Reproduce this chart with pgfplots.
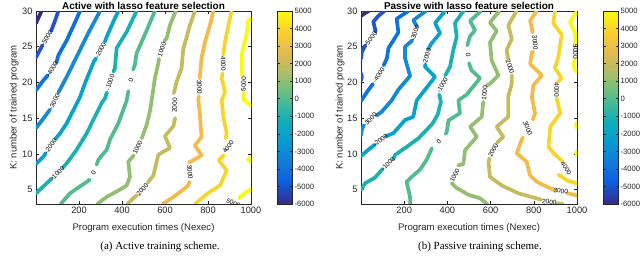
\documentclass[border=0pt]{standalone}
\usepackage{pgfplots}
\pgfplotsset{compat=1.18}
\usepackage{fontspec}
\setmainfont{Liberation Sans}
\newfontfamily\capfont{Liberation Serif}
\definecolor{m6}{rgb}{0.2081,0.1663,0.5292}
\definecolor{m5}{rgb}{0.137,0.316,0.816}
\definecolor{m4}{rgb}{0.040,0.450,0.868}
\definecolor{m3}{rgb}{0.073,0.541,0.826}
\definecolor{m2}{rgb}{0.023,0.640,0.793}
\definecolor{m1}{rgb}{0.103,0.698,0.694}
\definecolor{z0}{rgb}{0.320,0.739,0.562}
\definecolor{p1}{rgb}{0.574,0.748,0.448}
\definecolor{p2}{rgb}{0.780,0.736,0.366}
\definecolor{p3}{rgb}{0.961,0.729,0.277}
\definecolor{p4}{rgb}{0.976,0.833,0.159}
\definecolor{p5}{rgb}{0.976,0.983,0.054}
\definecolor{axc}{rgb}{0.15,0.15,0.15}
\tikzset{lab/.style={font=\fontsize{6.5}{7}\selectfont, inner sep=0pt, text=black}}
\pgfplotsset{
  colormap={parula}{rgb=(0.2081,0.1663,0.5292) rgb=(0.0591,0.3598,0.8683) rgb=(0.0723,0.4887,0.8467) rgb=(0.0265,0.6137,0.8135) rgb=(0.0843,0.6928,0.7062) rgb=(0.3482,0.7424,0.5473) rgb=(0.6473,0.7456,0.4188) rgb=(0.8824,0.7274,0.3217) rgb=(0.9880,0.8066,0.1794) rgb=(0.9763,0.9831,0.0538)},
  lv/.style={line width=3.7bp, line cap=round, line join=round, no markers, draw=#1},
  base/.style={
    scale only axis, height=193bp,
    anchor=south west,
    xmin=0, xmax=1000, ymin=3, ymax=30,
    xtick={200,400,600,800,1000}, ytick={5,10,15,20,25,30},
    /pgf/number format/assume math mode=true,
    /pgf/number format/1000 sep={},
    tick label style={font=\fontsize{9.3}{10}\selectfont, text=axc},
    axis line style={draw=axc, line width=0.5bp},
    tick style={draw=axc, line width=0.5bp},
    major tick length=3bp,
    title style={font=\bfseries\fontsize{10}{11}\selectfont, at={(0.5,1)}, anchor=south, inner sep=1bp, yshift=-5.5bp},
    xlabel={Program execution times (Nexec)},
    ylabel={K: number of trained program},
    label style={font=\fontsize{9.6}{11}\selectfont, text=axc},
    xlabel style={at={(axis description cs:0.5,-0.124)}, anchor=center},
    point meta min=-6000, point meta max=5000,
    colorbar,
    colorbar style={
      at={(parent axis.north east)}, anchor=north west, xshift=18bp,
      width=15bp,
      ytick={-6000,-5000,-4000,-3000,-2000,-1000,0,1000,2000,3000,4000,5000},
      /pgf/number format/assume math mode=true,
      /pgf/number format/1000 sep={},
      yticklabel style={font=\fontsize{7.7}{9}\selectfont, text=axc, xshift=-1.5bp},
      axis line style={draw=axc, line width=0.5bp},
      tick style={draw=axc, line width=0.5bp},
      major tick length=2.5bp,
    },
  },
}
\begin{document}
\begin{tikzpicture}
\useasboundingbox (0,0) rectangle (640bp,265bp);
% ---------------- Active ----------------
\begin{axis}[base, at={(36bp,61bp)}, width=215bp,
  title={Active with lasso feature selection},
  ylabel style={at={(axis description cs:-0.102,0.5)}, anchor=center}]
\addplot[lv=m6] coordinates {(0,28.3) (12,29.1) (26,30)};
\addplot[lv=m5] coordinates {(0,23.5) (12,24.2) (30,25.2)};
\addplot[lv=m5] coordinates {(70,27.2) (88,28.6) (104,30)};
\addplot[lv=m4] coordinates {(0,18.9) (34,20.3) (55,21.0)};
\addplot[lv=m4] coordinates {(95,22.8) (104,23.8) (143,25.9) (175,28.0) (205,30)};
\addplot[lv=m3] coordinates {(0,13.6) (30,14.8) (65,16.2)};
\addplot[lv=m3] coordinates {(104,18.6) (143,20.8) (189,23.6) (243,26.9) (298,30)};
\addplot[lv=m2] coordinates {(0,8.6) (34,9.6) (45,10.1)};
\addplot[lv=m2] coordinates {(90,12.1) (112,12.9) (143,14.3) (175,16.2) (205,18.0) (228,19.9) (270,23.0) (280,23.4)};
\addplot[lv=m2] coordinates {(320,25.7) (329,26.4) (355,28.2) (383,30)};
\addplot[lv=m1] coordinates {(0,4.5) (11,4.8) (57,6.1) (75,6.6)};
\addplot[lv=m1] coordinates {(125,8.1) (143,8.7) (189,10.6) (236,12.9) (282,15.7) (305,17.1) (321,17.8) (330,18.6)};
\addplot[lv=m1] coordinates {(360,21.5) (367,22.0) (375,24.8) (422,27.1) (468,30)};
\addplot[lv=z0] coordinates {(115,3) (158,4.5) (236,6.1) (250,6.4)};
\addplot[lv=z0] coordinates {(282,8.5) (290,9.2) (329,10.6) (344,12.0) (383,14.3) (422,17.5) (430,18.8)};
\addplot[lv=z0] coordinates {(452,21.8) (460,22.5) (468,24.1) (515,27.3) (553,30)};
\addplot[lv=p1] coordinates {(285,3) (329,4.0) (390,5.0) (422,5.6) (437,6.8) (429,8.9) (455,9.8)};
\addplot[lv=p1] coordinates {(492,12.2) (515,14.1) (530,16.0) (538,17.5) (553,20.6) (569,22.7) (572,23.3)};
\addplot[lv=p1] coordinates {(597,25.8) (608,26.2) (623,28.0) (650,30)};
\addplot[lv=p2] coordinates {(425,3) (455,3.9) (470,4.2)};
\addplot[lv=p2] coordinates {(520,6.0) (546,7.0) (569,9.9) (623,10.85) (600,12.5) (639,13.9) (647,15.0)};
\addplot[lv=p2] coordinates {(641,18.5) (654,20.1) (677,22.0) (685,24.7) (716,28.0) (739,30)};
\addplot[lv=p3] coordinates {(590,3) (654,4.3) (705,5.5) (714,6.1)};
\addplot[lv=p3] coordinates {(712,8.8) (770,9.8) (739,11.2) (770,12.4) (763,15.2) (755,17.6) (757,18.1)};
\addplot[lv=p3] coordinates {(762,20.6) (763,21.1) (770,23.4) (786,25.7) (809,28.0) (825,30)};
\addplot[lv=p4] coordinates {(740,3) (794,4.4) (856,5.6) (887,7.7) (850,9.1) (872,9.8)};
\addplot[lv=p4] coordinates {(882,12.2) (887,12.9) (871,15.2) (864,17.5) (879,18.7) (864,20.6) (868,21.3)};
\addplot[lv=p4] coordinates {(871,23.9) (879,25.7) (895,28.0) (910,30)};
\addplot[lv=p5] coordinates {(1000,29.0) (985,28.5) (980,26.8) (957,24.0) (957,21.2) (961,20.9)};
\addplot[lv=p5] coordinates {(966,18.6) (964,17.7) (980,17.2) (1000,16.8)};
\addplot[lv=p5] coordinates {(1000,9.5) (986,9.2) (1000,8.9)};
\addplot[lv=p5] coordinates {(1000,5.1) (975,4.6) (945,3.9)};
\node[lab, rotate=59] at (axis cs:50,26.2) {-5000};
\node[lab, rotate=58] at (axis cs:75,21.8) {-4000};
\node[lab, rotate=62] at (axis cs:85,17.3) {-3000};
\node[lab, rotate=54] at (axis cs:68,11.1) {-2000};
\node[lab, rotate=62] at (axis cs:300,24.5) {-2000};
\node[lab, rotate=45] at (axis cs:100,7.3) {-1000};
\node[lab, rotate=72] at (axis cs:344,20.0) {-1000};
\node[lab, rotate=61] at (axis cs:268,7.3) {0};
\node[lab, rotate=75] at (axis cs:441,20.3) {0};
\node[lab, rotate=65] at (axis cs:473,10.9) {1000};
\node[lab, rotate=71] at (axis cs:585,24.6) {1000};
\node[lab, rotate=48] at (axis cs:495,5.0) {2000};
\node[lab, rotate=88] at (axis cs:645,16.8) {2000};
\node[lab, rotate=-85] at (axis cs:716,7.45) {3000};
\node[lab, rotate=-88] at (axis cs:760,19.35) {3000};
\node[lab, rotate=55] at (axis cs:894,11.0) {4000};
\node[lab, rotate=-88] at (axis cs:871,22.6) {4000};
\node[lab, rotate=88] at (axis cs:966,19.75) {5000};
\node[lab, rotate=-25] at (axis cs:918,3.1) {5000};
\end{axis}
% ---------------- Passive ----------------
\begin{axis}[base, at={(361bp,61bp)}, width=216bp,
  title={Passive with lasso feature selection},
  ylabel style={at={(axis description cs:-0.097,0.5)}, anchor=center}]
\addplot[lv=m6] coordinates {(0,29.3) (18,29.7) (36,30)};
\addplot[lv=m5] coordinates {(0,23.3) (4,24.3) (20,25.2)};
\addplot[lv=m5] coordinates {(68,27.1) (57,28.5) (80,29.3) (108,30)};
\addplot[lv=m5] coordinates {(0,21.3) (4,20.8) (0,20.3)};
\addplot[lv=m4] coordinates {(0,17.4) (26,18.6) (55,19.8)};
\addplot[lv=m4] coordinates {(105,22.4) (120,23.4) (127,24.8) (173,27.0) (165,28.9) (219,30)};
\addplot[lv=m3] coordinates {(0,12.6) (4,13.4) (12,14.0)};
\addplot[lv=m3] coordinates {(72,15.4) (96,15.9) (142,17.5) (173,19.0) (227,20.9) (204,23.4) (204,25.0) (238,25.9)};
\addplot[lv=m3] coordinates {(258,27.9) (242,28.7) (300,30)};
\addplot[lv=m2] coordinates {(0,9.7) (34,10.6) (64,11.3)};
\addplot[lv=m2] coordinates {(116,12.5) (150,12.9) (204,14.75) (242,15.2) (258,17.5) (320,19.9) (343,20.8) (296,22.2) (298,22.5)};
\addplot[lv=m2] coordinates {(312,24.7) (327,25.5) (366,26.9) (343,28.3) (389,30)};
\addplot[lv=m1] coordinates {(0,5.0) (19,5.9) (65,6.7) (100,7.9)};
\addplot[lv=m1] coordinates {(150,9.3) (157,9.85) (212,11.0) (266,12.2) (330,14.2) (355,15.5) (370,17.3) (362,18.3)};
\addplot[lv=m1] coordinates {(390,21.0) (412,22.2) (427,24.5) (443,26.4) (435,28.3) (474,30)};
\addplot[lv=z0] coordinates {(228,3) (227,4.0) (211,6.1) (235,6.8) (273,7.8) (304,9.2) (328,10.8)};
\addplot[lv=z0] coordinates {(392,12.8) (397,13.1) (405,14.7) (458,15.7) (451,17.5) (489,18.3) (551,20.6) (512,21.7) (500,22.7)};
\addplot[lv=z0] coordinates {(492,25.2) (505,26.5) (528,27.3) (505,28.6) (555,30)};
\addplot[lv=p1] coordinates {(585,3) (551,3.8) (497,4.3) (440,5.3) (420,5.9)};
\addplot[lv=p1] coordinates {(450,8.4) (474,8.6) (482,10.55) (536,12.4) (505,13.8) (559,15.2) (566,17.3)};
\addplot[lv=p1] coordinates {(582,19.6) (597,19.8) (636,21.0) (605,23.1) (597,25.6) (628,27.2) (597,28.4) (640,30)};
\addplot[lv=p2] coordinates {(720,30) (682,28.0) (698,26.1) (674,24.5) (682,23.3)};
\addplot[lv=p2] coordinates {(698,21.0) (698,19.8) (682,18.1) (682,15.2) (628,13.8) (659,12.4) (630,11.6)};
\addplot[lv=p2] coordinates {(595,9.4) (590,8.9) (597,6.8) (651,5.6) (728,4.5) (835,3.6)};
\addplot[lv=p2] coordinates {(908,3.1) (935,3.0)};
\addplot[lv=p3] coordinates {(813,30) (783,28.6) (795,27.0)};
\addplot[lv=p3] coordinates {(798,24.3) (791,24.2) (783,22.6) (837,21.0) (798,19.6) (791,17.9) (806,15.7) (795,14.8)};
\addplot[lv=p3] coordinates {(750,12.3) (744,12.0) (721,10.1) (767,8.9) (783,7.0) (814,6.1) (876,5.2) (895,5.0)};
\addplot[lv=p3] coordinates {(955,4.5) (1000,4.2)};
\addplot[lv=p4] coordinates {(898,30) (890,28.3) (929,26.7) (914,23.6) (898,22.0) (929,20.6) (912,20.1)};
\addplot[lv=p4] coordinates {(906,17.8) (922,15.7) (876,13.8) (868,11.0) (898,9.9) (929,9.1) (933,8.9)};
\addplot[lv=p4] coordinates {(914,7.1) (960,6.2) (1000,5.9)};
\addplot[lv=p5] coordinates {(1000,29.9) (991,29.6) (968,28.5) (991,26.9) (992,25.4)};
\addplot[lv=p5] coordinates {(990,23.2) (983,22.5) (991,21.7) (1000,21.5)};
\addplot[lv=p5] coordinates {(1000,14.4) (995,14.0) (1000,13.6)};
\addplot[lv=p5] coordinates {(1000,10.4) (996,10.1) (1000,9.8)};
\node[lab, rotate=52] at (axis cs:45,26.1) {-5000};
\node[lab, rotate=58] at (axis cs:82,21.0) {-4000};
\node[lab, rotate=45] at (axis cs:42,14.8) {-3000};
\node[lab, rotate=70] at (axis cs:250,26.9) {-3000};
\node[lab, rotate=38] at (axis cs:90,11.9) {-2000};
\node[lab, rotate=75] at (axis cs:304,23.6) {-2000};
\node[lab, rotate=45] at (axis cs:125,8.6) {-1000};
\node[lab, rotate=60] at (axis cs:376,19.6) {-1000};
\node[lab, rotate=40] at (axis cs:360,11.7) {0};
\node[lab, rotate=-85] at (axis cs:497,23.9) {0};
\node[lab, rotate=65] at (axis cs:434,7.0) {1000};
\node[lab, rotate=85] at (axis cs:572,18.5) {1000};
\node[lab, rotate=-72] at (axis cs:690,22.2) {2000};
\node[lab, rotate=62] at (axis cs:612,10.5) {2000};
\node[lab, rotate=-8] at (axis cs:872,3.25) {2000};
\node[lab, rotate=-85] at (axis cs:806,25.6) {3000};
\node[lab, rotate=-68] at (axis cs:772,13.6) {3000};
\node[lab, rotate=-8] at (axis cs:925,4.8) {3000};
\node[lab, rotate=-90] at (axis cs:906,19.0) {4000};
\node[lab, rotate=-58] at (axis cs:950,8.0) {4000};
\node[lab, rotate=-90] at (axis cs:992,24.3) {5000};
\end{axis}
\node[font=\capfont\fontsize{11}{13}\selectfont] at (160bp,18bp) {(a) Active training scheme.};
\node[font=\capfont\fontsize{11}{13}\selectfont] at (480bp,18bp) {(b) Passive training scheme.};
\node[anchor=base west, inner sep=0pt, font=\capfont\fontsize{11}{13}\selectfont] at (1bp,-8bp) {Fig. 4.\quad The required performance for a number of training programs and executions with the LASSO feature selection. The contours of Nexec and K are shown.};
\end{tikzpicture}
\end{document}
